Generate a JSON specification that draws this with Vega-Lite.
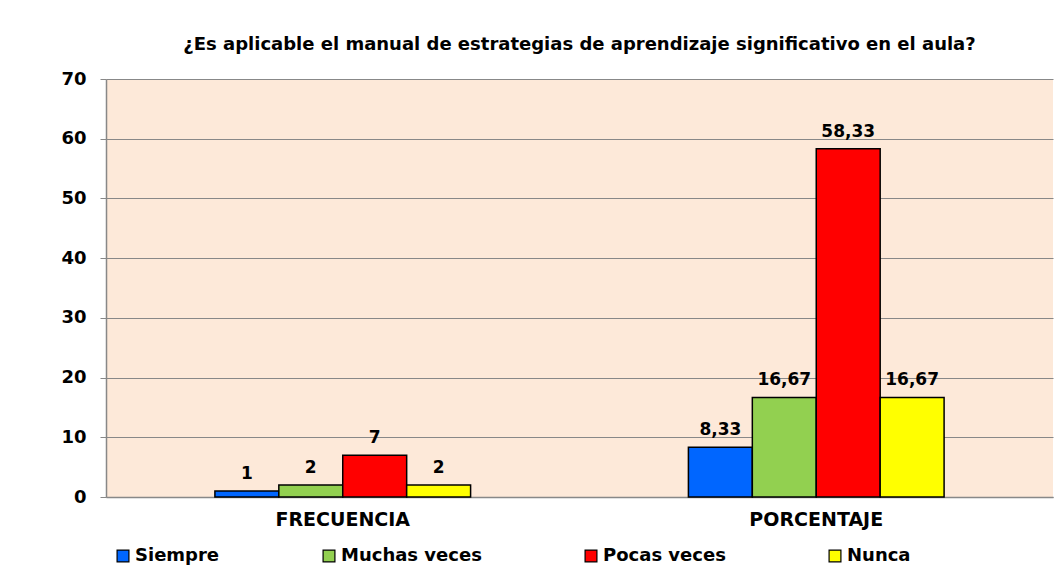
{
  "$schema": "https://vega.github.io/schema/vega-lite/v6.json",
  "width": 1055,
  "height": 576,
  "autosize": {"type": "fit", "contains": "padding"},
  "padding": {"left": 60, "right": 2, "top": 36, "bottom": 3},
  "background": "white",
  "title": {
    "text": "¿Es aplicable el manual de estrategias de aprendizaje significativo en el aula?",
    "font": "DejaVu Sans",
    "fontSize": 18,
    "fontWeight": "bold",
    "color": "black",
    "anchor": "middle",
    "offset": 16
  },
  "data": {
    "values": [
      {"grupo": "FRECUENCIA", "respuesta": "Siempre", "valor": 1, "etiqueta": "1"},
      {"grupo": "FRECUENCIA", "respuesta": "Muchas veces", "valor": 2, "etiqueta": "2"},
      {"grupo": "FRECUENCIA", "respuesta": "Pocas veces", "valor": 7, "etiqueta": "7"},
      {"grupo": "FRECUENCIA", "respuesta": "Nunca", "valor": 2, "etiqueta": "2"},
      {"grupo": "PORCENTAJE", "respuesta": "Siempre", "valor": 8.33, "etiqueta": "8,33"},
      {"grupo": "PORCENTAJE", "respuesta": "Muchas veces", "valor": 16.67, "etiqueta": "16,67"},
      {"grupo": "PORCENTAJE", "respuesta": "Pocas veces", "valor": 58.33, "etiqueta": "58,33"},
      {"grupo": "PORCENTAJE", "respuesta": "Nunca", "valor": 16.67, "etiqueta": "16,67"}
    ]
  },
  "encoding": {
    "x": {
      "field": "grupo",
      "type": "nominal",
      "sort": ["FRECUENCIA", "PORCENTAJE"],
      "scale": {"paddingInner": 0.46, "paddingOuter": 0.23},
      "axis": {
        "title": null,
        "labelAngle": 0,
        "labelFont": "DejaVu Sans",
        "labelFontSize": 19,
        "labelFontWeight": "bold",
        "labelColor": "black",
        "labelPadding": 13,
        "domainColor": "#888888",
        "domainWidth": 1.5,
        "ticks": false
      }
    },
    "xOffset": {
      "field": "respuesta",
      "type": "nominal",
      "sort": ["Siempre", "Muchas veces", "Pocas veces", "Nunca"],
      "scale": {"paddingInner": 0, "paddingOuter": 0}
    },
    "y": {
      "field": "valor",
      "type": "quantitative",
      "scale": {"domain": [0, 70], "nice": false},
      "axis": {
        "title": null,
        "values": [0, 10, 20, 30, 40, 50, 60, 70],
        "labelFont": "DejaVu Sans",
        "labelFontSize": 18,
        "labelFontWeight": "bold",
        "labelColor": "black",
        "labelPadding": 14,
        "domainColor": "#888888",
        "domainWidth": 1.5,
        "tickColor": "#888888",
        "tickSize": 6,
        "gridColor": "#888888",
        "gridWidth": 1.2
      }
    }
  },
  "layer": [
    {
      "mark": {"type": "bar", "stroke": "black", "strokeWidth": 1.5},
      "encoding": {
        "color": {
          "field": "respuesta",
          "type": "nominal",
          "sort": ["Siempre", "Muchas veces", "Pocas veces", "Nunca"],
          "scale": {
            "domain": ["Siempre", "Muchas veces", "Pocas veces", "Nunca"],
            "range": ["#0066FF", "#92D050", "#FF0000", "#FFFF00"]
          },
          "legend": {
            "title": null,
            "orient": "bottom",
            "direction": "horizontal",
            "symbolType": "square",
            "symbolSize": 140,
            "symbolStrokeColor": "black",
            "symbolStrokeWidth": 1.2,
            "symbolOpacity": 1,
            "labelFont": "DejaVu Sans",
            "labelFontSize": 18,
            "labelFontWeight": "bold",
            "labelColor": "black",
            "labelOffset": 3,
            "columnPadding": 100,
            "offset": 10,
            "padding": 8
          }
        }
      }
    },
    {
      "mark": {
        "type": "text",
        "baseline": "bottom",
        "dy": -8,
        "font": "DejaVu Sans",
        "fontSize": 17,
        "fontWeight": "bold",
        "color": "black"
      },
      "encoding": {"text": {"field": "etiqueta", "type": "nominal"}}
    }
  ],
  "config": {
    "view": {"fill": "#FDE9D9", "stroke": null}
  }
}
